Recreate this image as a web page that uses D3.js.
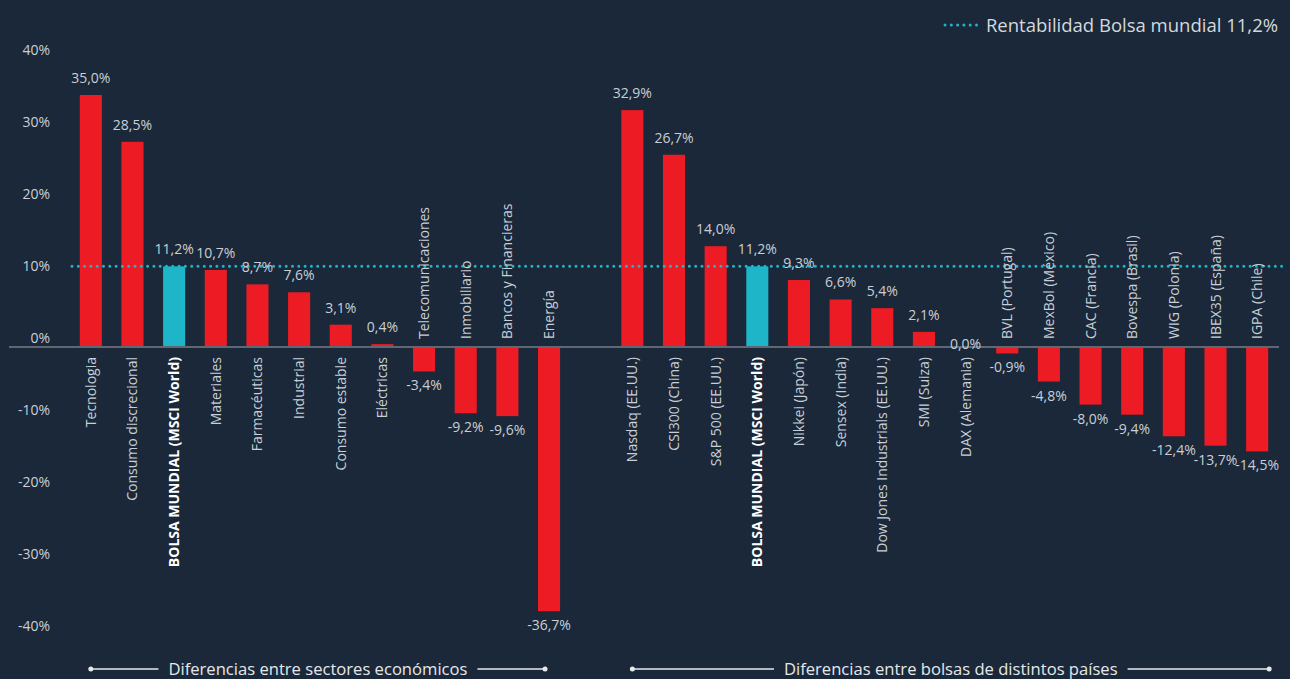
<!DOCTYPE html>
<html lang="es">
<head>
<meta charset="UTF-8">
<title>Rentabilidad</title>
<style>
  html, body { margin: 0; padding: 0; background: #1a2839; }
  body { font-family: "Open Sans", "Noto Sans", sans-serif; }
  svg { display: block; }
</style>
</head>
<body>
<script src="https://cdnjs.cloudflare.com/ajax/libs/d3/7.8.5/d3.min.js"></script>
<script>
// data
var sectorNames = ["Tecnologia", "Consumo discrecional", "BOLSA MUNDIAL (MSCI World)", "Materiales",
  "Farmacéuticas", "Industrial", "Consumo estable", "Eléctricas", "Telecomunicaciones",
  "Inmobiliario", "Bancos y Financieras", "Energía"];
var sectorValues = [35.0, 28.5, 11.2, 10.7, 8.7, 7.6, 3.1, 0.4, -3.4, -9.2, -9.6, -36.7];

var countryNames = ["Nasdaq (EE.UU.)", "CSI300 (China)", "S&P 500 (EE.UU.)", "BOLSA MUNDIAL (MSCI World)",
  "Nikkei (Japón)", "Sensex (India)", "Dow Jones Industrials (EE.UU.)", "SMI (Suiza)", "DAX (Alemania)",
  "BVL (Portugal)", "MexBol (México)", "CAC (Francia)", "Bovespa (Brasil)", "WIG (Polonia)",
  "IBEX35 (España)", "IGPA (Chile)"];
var countryValues = [32.9, 26.7, 14.0, 11.2, 9.3, 6.6, 5.4, 2.1, 0.0, -0.9, -4.8, -8.0, -9.4, -12.4, -13.7, -14.5];

var worldReturn = 11.2;
var yTicks = [-40, -30, -20, -10, 0, 10, 20, 30, 40];
var groupTitles = ["Diferencias entre sectores económicos", "Diferencias entre bolsas de distintos países"];
var legendLabel = "Rentabilidad Bolsa mundial 11,2%";

var W = 1290, H = 679;
var red = "#ed1c24", cyan = "#1fb5c9", txt = "#c9cfd6";

// build rows: sectors, one empty slot, countries
var rows = [];
sectorNames.forEach(function (n, i) { rows.push({key: "s" + i, name: n, value: sectorValues[i], group: 0}); });
rows.push({key: "gap", name: "", value: null, group: -1});
countryNames.forEach(function (n, i) { rows.push({key: "c" + i, name: n, value: countryValues[i], group: 1}); });
var bars = rows.filter(function (d) { return d.value !== null; });

var svg = d3.select("body").append("svg").attr("width", W).attr("height", H);

var x = d3.scaleBand().domain(rows.map(function (d) { return d.key; }))
  .range([70, 1278]).paddingInner(0.47).paddingOuter(0.235);
var y = d3.scaleLinear().domain([-40, 40]).range([635, 59]);

var fmt = function (v) { return d3.format(".1f")(v).replace(".", ",").replace("\u2212", "-") + "%"; };
var isWorld = function (d) { return d.name.indexOf("BOLSA MUNDIAL") === 0; };

// y axis labels
var yAxis = d3.axisLeft(y).tickValues(yTicks).tickSize(0).tickPadding(0)
  .tickFormat(function (d) { return d + "%"; });
var ya = svg.append("g").attr("transform", "translate(50,-9)").call(yAxis);
ya.select(".domain").remove();
ya.selectAll("text").attr("fill", txt).style("font-size", "14px")
  .style("font-family", "'Open Sans', sans-serif");

// bars
svg.append("g").selectAll("rect").data(bars).join("rect")
  .attr("x", function (d) { return x(d.key); })
  .attr("width", x.bandwidth())
  .attr("y", function (d) { return y(Math.max(0, d.value)); })
  .attr("height", function (d) { return Math.abs(y(d.value) - y(0)); })
  .attr("fill", function (d) { return isWorld(d) ? cyan : red; });

// zero line
svg.append("line").attr("x1", 9).attr("x2", 1279).attr("y1", y(0)).attr("y2", y(0))
  .attr("stroke", "#5d6874").attr("stroke-width", 2);

// world return dotted line
svg.append("line").attr("x1", 72).attr("x2", 1282).attr("y1", y(worldReturn)).attr("y2", y(worldReturn))
  .attr("stroke", cyan).attr("stroke-width", 3).attr("stroke-linecap", "round")
  .attr("stroke-dasharray", "0,6.3");

// value labels
svg.append("g").selectAll("text").data(bars).join("text")
  .attr("x", function (d) { return x(d.key) + x.bandwidth() / 2; })
  .attr("y", function (d) {
    if (d.value === 0) return y(0) + 2;
    return d.value > 0 ? y(d.value) - 12 : y(d.value) + 19;
  })
  .attr("text-anchor", "middle")
  .attr("fill", txt).style("font-size", "14px")
  .text(function (d) { return fmt(d.value); });

// category labels (rotated)
svg.append("g").selectAll("text").data(bars).join("text")
  .attr("transform", function (d) {
    var cx = x(d.key) + x.bandwidth() / 2 + 5;
    var cy = d.value >= 0 ? y(0) + 10 : y(0) - 8;
    return "translate(" + cx + "," + cy + ") rotate(-90)";
  })
  .attr("text-anchor", function (d) { return d.value >= 0 ? "end" : "start"; })
  .attr("fill", function (d) { return isWorld(d) ? "#ffffff" : txt; })
  .style("font-weight", function (d) { return isWorld(d) ? "700" : "400"; })
  .style("font-size", "14px")
  .text(function (d) { return d.name; });

// group titles with bracket lines
[0, 1].forEach(function (g) {
  var gb = bars.filter(function (d) { return d.group === g; });
  var x0 = x(gb[0].key) + x.bandwidth() / 2;
  var x1 = x(gb[gb.length - 1].key) + x.bandwidth() / 2 + (g === 1 ? 12 : -4);
  var cx = (x0 + x1) / 2;
  var yy = 669;
  var t = svg.append("text").attr("x", cx).attr("y", yy + 6).attr("text-anchor", "middle")
    .attr("fill", "#e6e9ec").style("font-size", "16.6px").text(groupTitles[g]);
  var tw = t.node().getComputedTextLength();
  var gl = svg.append("g").attr("stroke", "#e6e9ec").attr("stroke-width", 1.3);
  gl.append("line").attr("x1", x0).attr("x2", cx - tw / 2 - 10).attr("y1", yy).attr("y2", yy);
  gl.append("line").attr("x1", cx + tw / 2 + 10).attr("x2", x1).attr("y1", yy).attr("y2", yy);
  svg.append("circle").attr("cx", x0).attr("cy", yy).attr("r", 2.5).attr("fill", "#e6e9ec");
  svg.append("circle").attr("cx", x1).attr("cy", yy).attr("r", 2.5).attr("fill", "#e6e9ec");
});

// legend
var lg = svg.append("g");
lg.append("line").attr("x1", 945).attr("x2", 982).attr("y1", 25).attr("y2", 25)
  .attr("stroke", cyan).attr("stroke-width", 3).attr("stroke-linecap", "round")
  .attr("stroke-dasharray", "0,6.3");
lg.append("text").attr("x", 1278).attr("y", 32).attr("text-anchor", "end")
  .attr("fill", "#d4d9de").style("font-size", "18.5px").text(legendLabel);
</script>
</body>
</html>
